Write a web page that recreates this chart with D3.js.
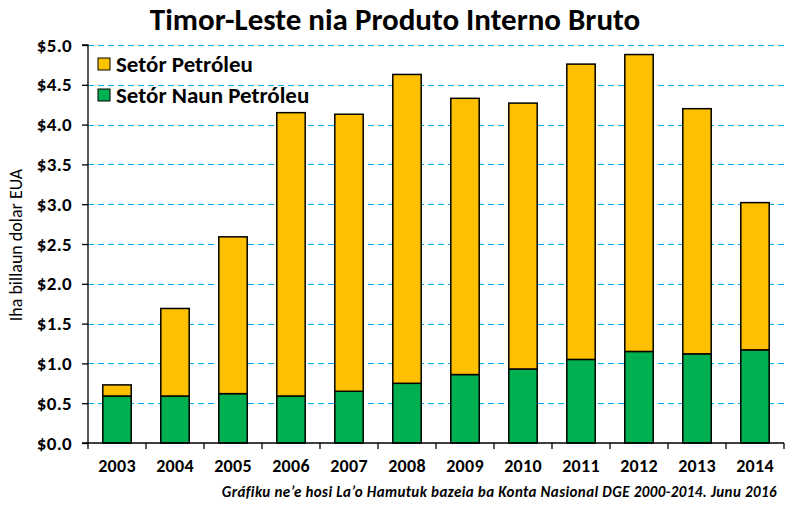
<!DOCTYPE html>
<html><head><meta charset="utf-8">
<script src="https://cdn.jsdelivr.net/npm/d3@7"></script>
<style>body{margin:0;background:#fff}svg{display:block}text{font-family:Carlito,Calibri,"Open Sans",sans-serif}</style>
</head><body><svg id="c" width="790" height="506"></svg>
<script>
const years = ["2003","2004","2005","2006","2007","2008","2009","2010","2011","2012","2013","2014"];
const naunPetroleu = [0.59,0.59,0.62,0.59,0.65,0.75,0.86,0.93,1.05,1.15,1.12,1.17];
const petroleu = [0.14,1.10,1.97,3.56,3.48,3.88,3.47,3.34,3.71,3.73,3.08,1.85];
const yTicks = [0,0.5,1,1.5,2,2.5,3,3.5,4,4.5,5];
const seriesNames = ["Setór Petróleu","Setór Naun Petróleu"];
const colors = {pet:"#FFC000", naun:"#00B050"};

const FF = 'Carlito,Calibri,"Open Sans",sans-serif';
const svg = d3.select("#c");
const L=88, R=784, T=45, B=443;
const x = d3.scaleBand().domain(years).range([L,R]).paddingInner(0.51).paddingOuter(0.255);
const y = d3.scaleLinear().domain([0,5]).range([B,T]);

// grid
svg.append("g").selectAll("line").data(yTicks.filter(d=>d>0)).join("line")
 .attr("x1",L).attr("x2",R).attr("y1",d=>Math.round(y(d))+0.5).attr("y2",d=>Math.round(y(d))+0.5)
 .attr("stroke","#00B0F0").attr("stroke-width",1.2).attr("stroke-dasharray","6,4");

// bars
const data = years.map((yr,i)=>({yr,n:naunPetroleu[i],p:petroleu[i]}));
const g = svg.append("g");
g.selectAll("rect.n").data(data).join("rect").attr("class","n")
 .attr("x",d=>x(d.yr)).attr("width",x.bandwidth())
 .attr("y",d=>y(d.n)).attr("height",d=>y(0)-y(d.n))
 .attr("fill",colors.naun).attr("stroke","#000").attr("stroke-width",1.5);
g.selectAll("rect.p").data(data).join("rect").attr("class","p")
 .attr("x",d=>x(d.yr)).attr("width",x.bandwidth())
 .attr("y",d=>y(d.n+d.p)).attr("height",d=>y(d.n)-y(d.n+d.p))
 .attr("fill",colors.pet).attr("stroke","#000").attr("stroke-width",1.5);

// y axis
const ya = svg.append("g").attr("transform",`translate(${L},0)`)
 .call(d3.axisLeft(y).tickValues(yTicks).tickSize(6).tickPadding(10).tickFormat(d=>"$"+d.toFixed(1)));
ya.select(".domain").attr("stroke","#000").attr("stroke-width",1.3).attr("d",`M-6,${T}H0V${B}H-6`);
ya.selectAll(".tick line").attr("stroke","#000").attr("stroke-width",1.3);
ya.selectAll(".tick text").attr("font-size",19).attr("font-weight","bold").attr("fill","#000")
 .attr("font-family",FF).attr("letter-spacing",0.3);

// x axis
const xa = svg.append("g").attr("transform",`translate(0,${B})`)
 .call(d3.axisBottom(x).tickSize(0).tickPadding(16));
xa.select(".domain").attr("stroke","#000").attr("stroke-width",1.3).attr("d",`M${L},0H${R}`);
xa.selectAll(".tick text").attr("font-size",18).attr("font-weight","bold").attr("fill","#000")
 .attr("font-family",FF).attr("letter-spacing",0.3);
xa.append("g").selectAll("line").data(d3.range(years.length+1)).join("line")
 .attr("x1",i=>L+i*(R-L)/years.length).attr("x2",i=>L+i*(R-L)/years.length)
 .attr("y1",0).attr("y2",6).attr("stroke","#000").attr("stroke-width",1.3);

// title
svg.append("text").attr("x",395).attr("y",30).attr("text-anchor","middle")
 .attr("font-size",31).attr("font-weight","bold").text("Timor-Leste nia Produto Interno Bruto");

// y title
svg.append("text").attr("transform","translate(22,245) rotate(-90)").attr("text-anchor","middle")
 .attr("font-size",18).text("Iha billaun dolar EUA");

// legend
const leg = svg.append("g");
[[seriesNames[0],colors.pet,64],[seriesNames[1],colors.naun,95]].forEach(([t,c,cy])=>{
 leg.append("rect").attr("x",98).attr("y",cy-6).attr("width",12).attr("height",12).attr("fill",c).attr("stroke","#000").attr("stroke-width",1);
 leg.append("text").attr("x",116).attr("y",cy+8).attr("font-size",23).attr("font-weight","bold").text(t);
});

// footnote
svg.append("text").attr("x",777).attr("y",497).attr("text-anchor","end")
 .attr("font-size",15).attr("font-weight","bold").attr("font-style","italic").attr("letter-spacing",0.4)
 .text("Gráfiku ne’e hosi La’o Hamutuk bazeia ba Konta Nasional DGE 2000-2014. Junu 2016");
</script></body></html>
